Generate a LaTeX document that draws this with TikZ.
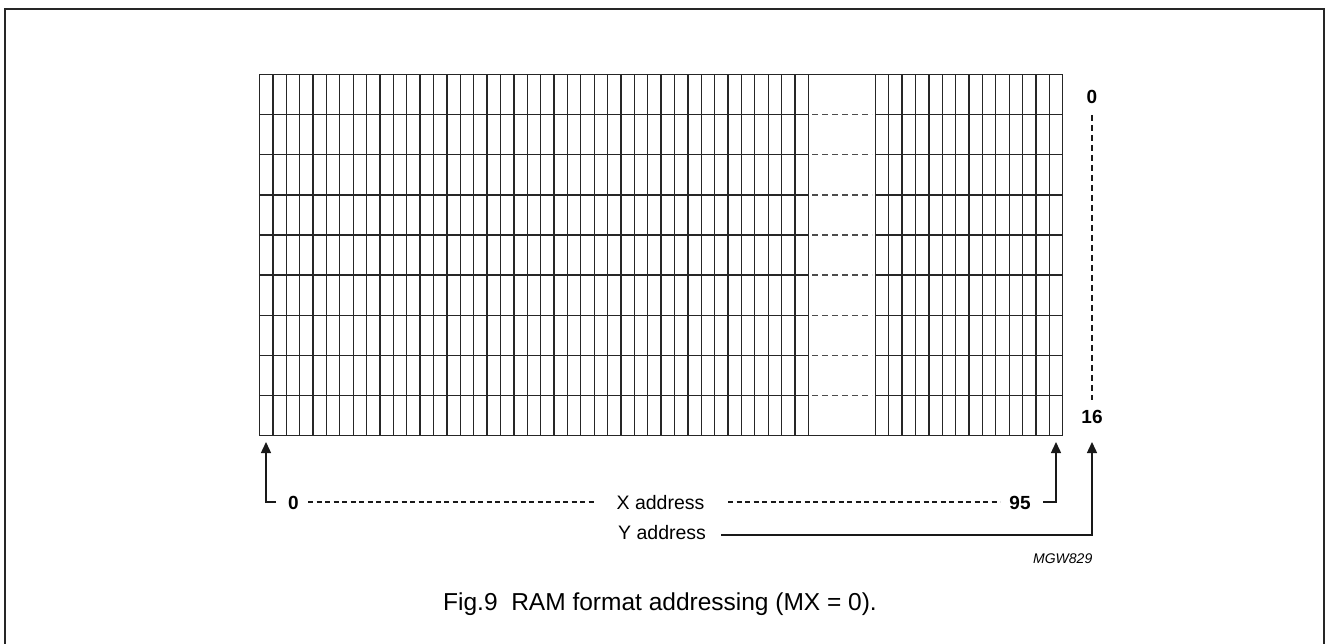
\documentclass[tikz,border=0pt]{standalone}
\usepackage{fontspec}
\setmainfont{Liberation Sans}
\usetikzlibrary{arrows.meta}
\begin{document}
\begin{tikzpicture}[x=1pt,y=-1pt,
  gridline/.style={line width=1.3pt, draw=black!85},
  gapdash/.style={line width=1.3pt, draw=black!70, dash pattern=on 6pt off 4pt},
  lbl/.style={font=\fontsize{19}{22}\selectfont\bfseries, inner sep=0pt},
  txt/.style={font=\fontsize{19.5}{23}\selectfont, inner sep=0pt},
  conn/.style={line width=1.4pt, draw=black!90},
  dconn/.style={line width=1.2pt, draw=black!90, dash pattern=on 5pt off 3.5pt},
  vdconn/.style={line width=1.2pt, draw=black!90, dash pattern=on 6pt off 4pt},
  tip/.style={-{Triangle[width=10pt,length=11pt]}}
]
\useasboundingbox (0,0) rectangle (1326,644);
% outer frame
\draw[line width=2.5pt, black!85] (5,700) -- (5,9) -- (1324,9) -- (1324,700);
% grid
\foreach \i in {0,...,41} \draw[gridline] ({259.5+\i*13.387},74.5) -- ++(0,361.2);
\foreach \i in {46,...,60} \draw[gridline] ({259.5+\i*13.387},74.5) -- ++(0,361.2);
\draw[gridline] (259.5,74.5) -- (1062.7,74.5);
\draw[gridline] (259.5,435.7) -- (1062.7,435.7);
\foreach \j in {1,...,8} {
  \draw[gridline] (259.5,{74.5+\j*40.13}) -- (808.4,{74.5+\j*40.13});
  \draw[gridline] (875.3,{74.5+\j*40.13}) -- (1062.7,{74.5+\j*40.13});
  \draw[gapdash] (812,{74.5+\j*40.13}) -- (872,{74.5+\j*40.13});
}
% Y labels
\node[lbl] (y0) at (1092,97) {0};
\node[lbl] (y16) at (1092,417) {16};
\coordinate (ydtop) at (1092,115);
\coordinate (ydbot) at (1092,400);
\draw[vdconn] (ydtop) -- (ydbot);
% Y address
\node[txt, anchor=west] (yaddr) at (618,533) {Y address};
\coordinate (ystart) at (721,535);
\coordinate (ycorner) at (1092,535);
\coordinate (ytip) at (1092,442);
\draw[conn,tip] (ystart) -- (ycorner) -- (ytip);
% X address
\coordinate (xltip) at (266,442);
\coordinate (xlcorner) at (266,502);
\coordinate (xlend) at (276,502);
\draw[conn,tip] (xlend) -- (xlcorner) -- (xltip);
\node[lbl] (x0) at (293.5,503) {0};
\node[txt] (xaddr) at (660.5,503) {X address};
\node[lbl] (x95) at (1020,503) {95};
\coordinate (d1s) at (308,502);
\coordinate (d1e) at (595,502);
\coordinate (d2s) at (728,502);
\coordinate (d2e) at (1000,502);
\draw[dconn] (d1s) -- (d1e);
\draw[dconn] (d2s) -- (d2e);
\coordinate (xrend) at (1043,502);
\coordinate (xrcorner) at (1056,502);
\coordinate (xrtip) at (1056,442);
\draw[conn,tip] (xrend) -- (xrcorner) -- (xrtip);
% code and caption
\node[font=\fontsize{14}{16}\selectfont\itshape, anchor=east, inner sep=0pt] (code) at (1092.5,559) {MGW829};
\node[font=\fontsize{24.5}{28}\selectfont, anchor=base west, inner sep=0pt] (cap) at (443,610) {Fig.9\ \ RAM format addressing (MX = 0).};
\end{tikzpicture}
\end{document}
